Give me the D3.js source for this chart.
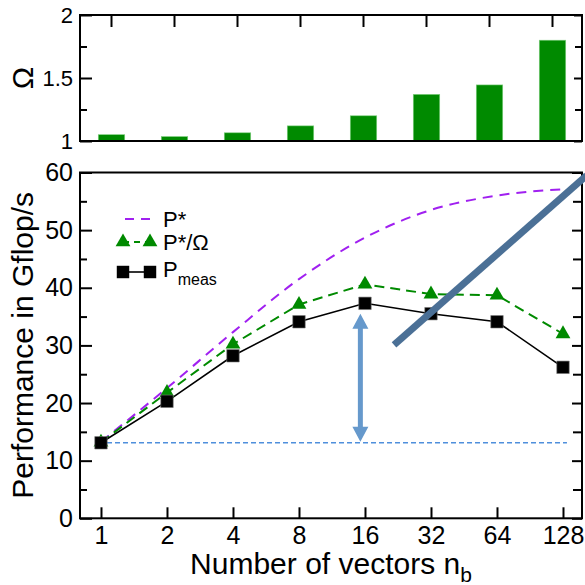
<!DOCTYPE html>
<html>
<head>
<meta charset="utf-8">
<script src="https://cdn.jsdelivr.net/npm/d3@7"></script>
<style>
body { margin: 0; background: #fff; }
text { font-family: "Liberation Sans", Arial, sans-serif; fill: #000; }
</style>
</head>
<body>
<div id="chart"></div>
<script>
// data
const vectors = ["1", "2", "4", "8", "16", "32", "64", "128"];
const omega = [1.05, 1.035, 1.065, 1.12, 1.2, 1.37, 1.445, 1.8];
const pStar = [13.3, 22.6, 32.3, 41.5, 48.7, 53.5, 56.0, 57.1];
const pStarOmega = [13.2, 21.8, 30.2, 37.1, 40.6, 38.9, 38.7, 32.0];
const pMeas = [13.1, 20.3, 28.2, 34.1, 37.3, 35.5, 34.1, 26.2];
const omegaTicks = [1, 1.5, 2];
const omegaMinor = [1.25, 1.75];
const perfTicks = [0, 10, 20, 30, 40, 50, 60];
const perfMinor = [5, 15, 25, 35, 45, 55];
const baseline = 13.1;               // horizontal dashed reference
const arrowSpan = [3.93, 13.3, 35.5]; // index, from, to
const trendLine = [[4.44, 30.1], [7.36, 59.5]];

document.addEventListener("DOMContentLoaded", () => {
    var width = 585, height = 585;
    var left = 80, right = 582;

    var svg = d3.select("#chart").append("svg")
        .attr("width", width)
        .attr("height", height);

    var green = "#008a00";
    var purple = "#a020f0";

    // ---------- top panel (Omega bars) ----------
    var topY = d3.scaleLinear().domain([1, 2]).range([141, 15]);
    var band = d3.scaleBand().domain(vectors).range([left, right + 2])
        .paddingInner(0.58).paddingOuter(0.29);

    var panel = svg.append("g");

    panel.selectAll("rect")
        .data(omega)
        .enter()
        .append("rect")
        .attr("x", (d, i) => band(vectors[i]))
        .attr("width", band.bandwidth())
        .attr("y", d => topY(d))
        .attr("height", d => topY(1) - topY(d))
        .style("fill", green)
        .attr("stroke", "#7fcf7f")
        .style("stroke-width", 0.6);

    var styleAxis = (g) => {
        g.select(".domain").remove();
        g.selectAll("line").attr("stroke", "#000").style("stroke-width", 2);
    }

    panel.append("g").attr("transform", `translate(${left},0)`)
        .call(d3.axisLeft(topY).tickValues(omegaTicks).tickSize(-12).tickPadding(7)
            .tickFormat(d3.format("")))
        .call(styleAxis)
        .selectAll("text").style("font-size", "22px").style("font-family", null);
    panel.append("g").attr("transform", `translate(${left},0)`)
        .call(d3.axisLeft(topY).tickValues(omegaMinor).tickSize(-7).tickFormat(""))
        .call(styleAxis);
    panel.append("g").attr("transform", `translate(${right},0)`)
        .call(d3.axisRight(topY).tickValues(omegaTicks).tickSize(-8).tickFormat(""))
        .call(styleAxis);
    panel.append("g").attr("transform", `translate(${right},0)`)
        .call(d3.axisRight(topY).tickValues(omegaMinor).tickSize(-7).tickFormat(""))
        .call(styleAxis);
    // category ticks hanging from the top edge
    panel.append("g").attr("transform", `translate(0,${topY(2)})`)
        .call(d3.axisTop(band).tickSize(-12).tickFormat(""))
        .call(styleAxis);

    panel.append("rect")
        .attr("x", left).attr("y", topY(2))
        .attr("width", right - left).attr("height", topY(1) - topY(2))
        .attr("fill", "none").attr("stroke", "#000").style("stroke-width", 2);

    panel.append("text")
        .attr("transform", `translate(33,${topY(1.5)}) rotate(-90)`)
        .attr("text-anchor", "middle")
        .style("font-size", "30px")
        .text("\u03A9");

    // ---------- bottom panel (performance) ----------
    var x = d3.scaleLinear().domain([-0.318, 7.288]).range([left, right]);
    var y = d3.scaleLinear().domain([0, 60]).range([518.3, 172.5]);

    var bot = svg.append("g");

    bot.append("g").attr("transform", `translate(${left},0)`)
        .call(d3.axisLeft(y).tickValues(perfTicks).tickSize(-12).tickPadding(7))
        .call(styleAxis)
        .selectAll("text").style("font-size", "25px").style("font-family", null);
    bot.append("g").attr("transform", `translate(${left},0)`)
        .call(d3.axisLeft(y).tickValues(perfMinor).tickSize(-7).tickFormat(""))
        .call(styleAxis);
    bot.append("g").attr("transform", `translate(${right},0)`)
        .call(d3.axisRight(y).tickValues(perfTicks).tickSize(-10).tickFormat(""))
        .call(styleAxis);
    bot.append("g").attr("transform", `translate(${right},0)`)
        .call(d3.axisRight(y).tickValues(perfMinor).tickSize(-9).tickFormat(""))
        .call(styleAxis);
    bot.append("g").attr("transform", `translate(0,${y(0)})`)
        .call(d3.axisBottom(x).tickValues(d3.range(vectors.length)).tickSize(-11).tickPadding(8)
            .tickFormat(i => vectors[i]))
        .call(styleAxis)
        .selectAll("text").style("font-size", "25px").style("font-family", null);

    bot.append("rect")
        .attr("x", left).attr("y", y(60))
        .attr("width", right - left).attr("height", y(0) - y(60))
        .attr("fill", "none").attr("stroke", "#000").style("stroke-width", 2);

    // baseline reference
    bot.append("line")
        .attr("x1", x(-0.03)).attr("x2", x(7.06))
        .attr("y1", y(baseline)).attr("y2", y(baseline))
        .attr("stroke", "#4f8fdc").style("stroke-width", 1.6)
        .style("stroke-dasharray", "5,3");

    var line = d3.line().x((d, i) => x(i)).y(d => y(d));

    bot.append("path").datum(pStar)
        .attr("d", line.curve(d3.curveMonotoneX))
        .attr("fill", "none").attr("stroke", purple)
        .style("stroke-width", 2).style("stroke-dasharray", "10,7");

    bot.append("path").datum(pStarOmega)
        .attr("d", line.curve(d3.curveLinear))
        .attr("fill", "none").attr("stroke", green)
        .style("stroke-width", 2).style("stroke-dasharray", "10,6");

    bot.append("path").datum(pMeas)
        .attr("d", line.curve(d3.curveLinear))
        .attr("fill", "none").attr("stroke", "#000")
        .style("stroke-width", 1.6);

    var triangle = d3.symbol().type(d3.symbolTriangle).size(95);
    var square = d3.symbol().type(d3.symbolSquare).size(155);

    bot.append("g").selectAll("path")
        .data(pStarOmega)
        .enter()
        .append("path")
        .attr("d", triangle)
        .attr("transform", (d, i) => `translate(${x(i)},${y(d)})`)
        .style("fill", green);

    bot.append("g").selectAll("path")
        .data(pMeas)
        .enter()
        .append("path")
        .attr("d", square)
        .attr("transform", (d, i) => `translate(${x(i)},${y(d)})`)
        .style("fill", "#000")
        .attr("stroke", "#777").style("stroke-width", 0.6);

    // double headed arrow
    var ax = x(arrowSpan[0]), a0 = y(arrowSpan[1]), a1 = y(arrowSpan[2]);
    var head = 15, hw = 8;
    var arrowCol = "#6699cc";
    bot.append("line")
        .attr("x1", ax).attr("x2", ax)
        .attr("y1", a0 - head + 2).attr("y2", a1 + head - 2)
        .attr("stroke", arrowCol).style("stroke-width", 5);
    bot.append("path")
        .attr("d", `M${ax},${a1}L${ax - hw},${a1 + head}L${ax + hw},${a1 + head}Z` +
                   `M${ax},${a0}L${ax - hw},${a0 - head}L${ax + hw},${a0 - head}Z`)
        .style("fill", arrowCol);

    // thick slanted line
    bot.append("line")
        .attr("x1", x(trendLine[0][0])).attr("y1", y(trendLine[0][1]))
        .attr("x2", x(trendLine[1][0])).attr("y2", y(trendLine[1][1]))
        .attr("stroke", "#4b7096").style("stroke-width", 7);

    // legend
    var legend = bot.append("g");
    legend.append("line")
        .attr("x1", 125).attr("x2", 150).attr("y1", 219).attr("y2", 219)
        .attr("stroke", purple).style("stroke-width", 2).style("stroke-dasharray", "9,7");
    legend.append("text").attr("x", 163).attr("y", 227).style("font-size", "22px").text("P*");

    legend.append("line")
        .attr("x1", 123).attr("x2", 150).attr("y1", 242).attr("y2", 242)
        .attr("stroke", green).style("stroke-width", 2).style("stroke-dasharray", "6,5");
    [123, 150].forEach(px => {
        legend.append("path").attr("d", triangle)
            .attr("transform", `translate(${px},242)`).style("fill", green);
    });
    legend.append("text").attr("x", 163).attr("y", 250).style("font-size", "22px").text("P*/\u03A9");

    legend.append("line")
        .attr("x1", 123).attr("x2", 150).attr("y1", 272).attr("y2", 272)
        .attr("stroke", "#000").style("stroke-width", 1.6);
    [123, 150].forEach(px => {
        legend.append("path").attr("d", square)
            .attr("transform", `translate(${px},272)`).style("fill", "#000");
    });
    var pm = legend.append("text").attr("x", 163).attr("y", 277).style("font-size", "22px");
    pm.append("tspan").text("P");
    pm.append("tspan").attr("dy", 8).style("font-size", "16px").text("meas");

    // axis titles
    var xt = svg.append("text")
        .attr("x", (left + right) / 2).attr("y", 574)
        .attr("text-anchor", "middle")
        .style("font-size", "30px");
    xt.append("tspan").text("Number of vectors n");
    xt.append("tspan").attr("dy", 8).style("font-size", "21px").text("b");

    svg.append("text")
        .attr("transform", `translate(33,${(y(0) + y(60)) / 2}) rotate(-90)`)
        .attr("text-anchor", "middle")
        .style("font-size", "30px")
        .text("Performance in Gflop/s");
});
</script>
</body>
</html>
